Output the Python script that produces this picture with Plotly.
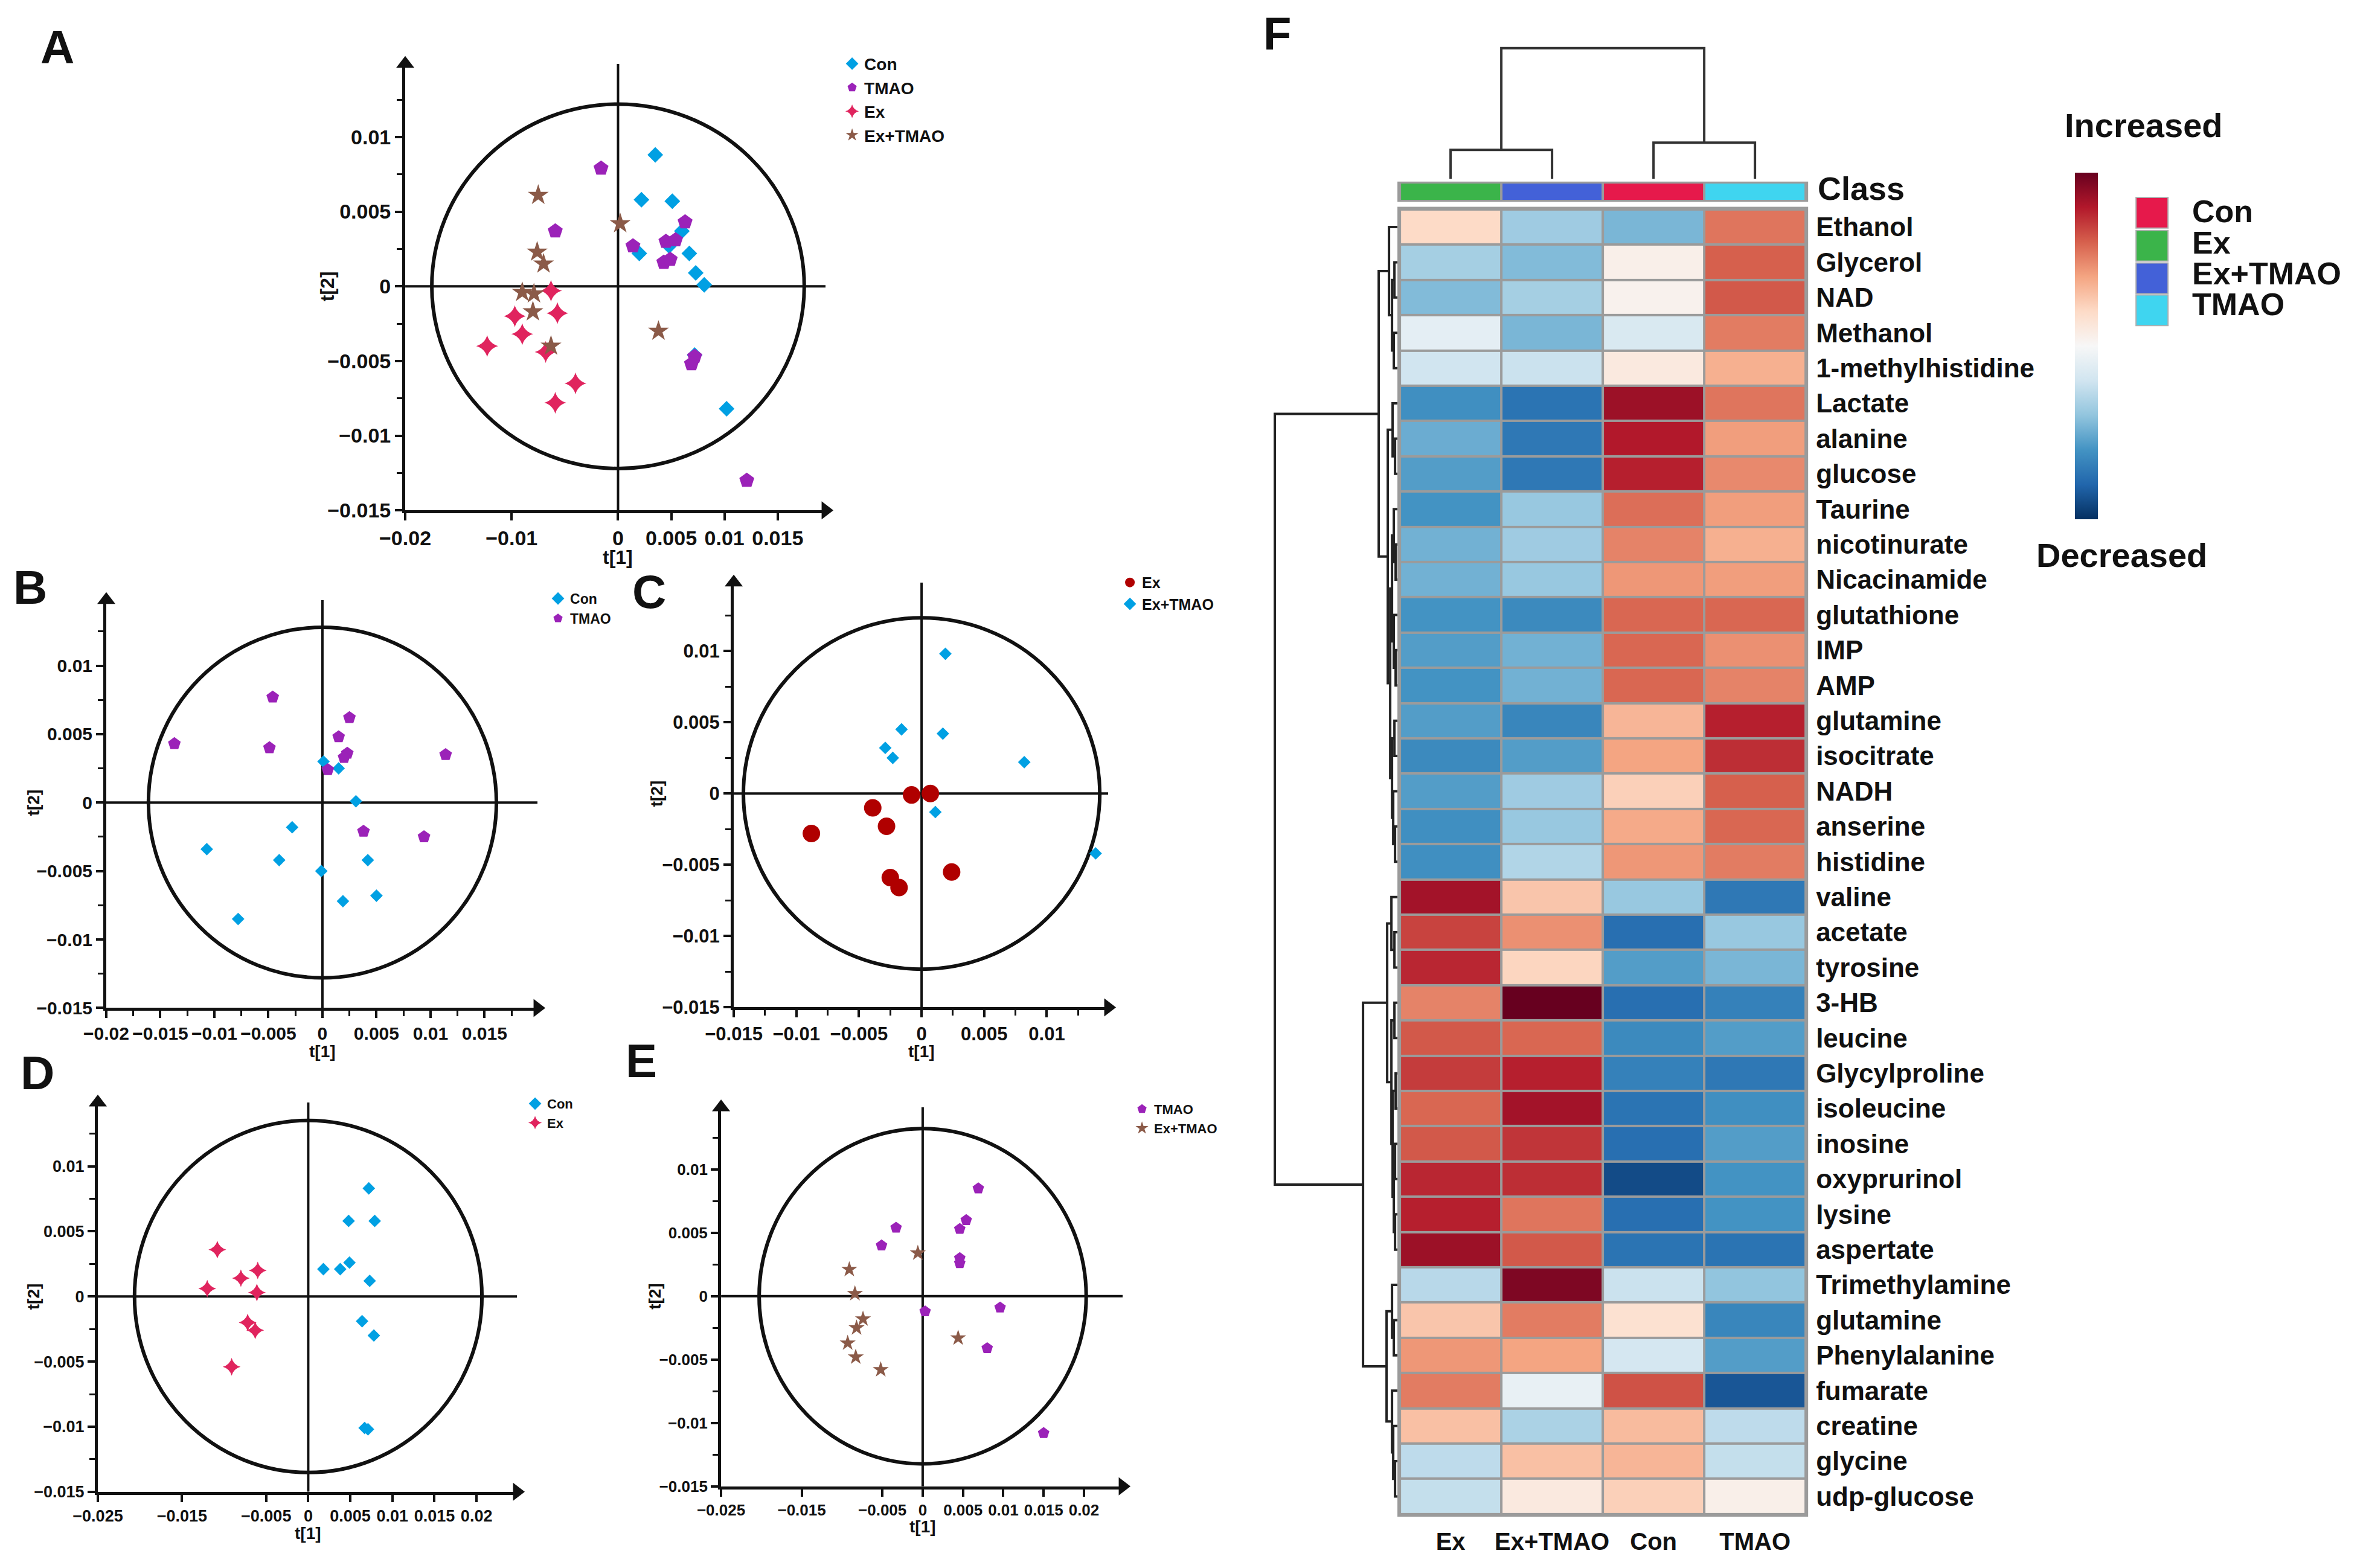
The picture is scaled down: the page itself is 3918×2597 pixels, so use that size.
import numpy as np
import plotly.graph_objects as go

W, H = 3918, 2597
FONT = "Liberation Sans, Arial, Helvetica, sans-serif"
INK = "#111111"

# ---------------- data: score plots ----------------
A_CON_X = [0.0035, 0.0022, 0.0051, 0.0060, 0.0067, 0.0020, 0.0048, 0.0073, 0.0081, 0.0102, 0.0072]
A_CON_Y = [0.0088, 0.0058, 0.0057, 0.0037, 0.0022, 0.0022, 0.0027, 0.0009, 0.0001, -0.0082, -0.0046]
A_TMAO_X = [-0.0016, -0.0059, 0.0063, 0.0014, 0.0045, 0.0054, 0.0043, 0.0049, 0.0072, 0.0069, 0.0121]
A_TMAO_Y = [0.0079, 0.0037, 0.0043, 0.0027, 0.0030, 0.0031, 0.0016, 0.0018, -0.0047, -0.0052, -0.0130]
A_EX_X = [-0.0063, -0.0097, -0.0057, -0.0090, -0.0123, -0.0068, -0.0040, -0.0059]
A_EX_Y = [-0.0003, -0.0020, -0.0018, -0.0032, -0.0040, -0.0044, -0.0065, -0.0078]
A_EXTMAO_X = [-0.0075, -0.0076, -0.0070, -0.0090, -0.0079, -0.0080, -0.0063, 0.0002, 0.0038]
A_EXTMAO_Y = [0.0061, 0.0023, 0.0015, -0.0004, -0.0005, -0.0017, -0.0040, 0.0042, -0.0030]

B_CON_X = [0.0001, 0.0015, 0.0031, -0.0028, -0.0107, -0.0040, -0.0001, 0.0042, 0.0050, 0.0019, -0.0078]
B_CON_Y = [0.0030, 0.0025, 0.0001, -0.0018, -0.0034, -0.0042, -0.0050, -0.0042, -0.0068, -0.0072, -0.0085]
B_TMAO_X = [-0.0137, -0.0046, -0.0049, 0.0025, 0.0015, 0.0023, 0.0020, 0.0005, 0.0114, 0.0038, 0.0094]
B_TMAO_Y = [0.0043, 0.0077, 0.0040, 0.0062, 0.0048, 0.0036, 0.0033, 0.0024, 0.0035, -0.0021, -0.0025]

C_EX_X = [-0.0008, 0.0007, -0.0039, -0.0028, -0.0088, -0.0025, -0.0018, 0.0024]
C_EX_Y = [-0.0001, 0.0000, -0.0010, -0.0023, -0.0028, -0.0059, -0.0066, -0.0055]
C_EXTMAO_X = [0.0019, -0.0016, 0.0017, -0.0029, -0.0023, 0.0082, 0.0011, 0.0139]
C_EXTMAO_Y = [0.0098, 0.0045, 0.0042, 0.0032, 0.0025, 0.0022, -0.0013, -0.0042]

D_CON_X = [0.0072, 0.0048, 0.0079, 0.0018, 0.0038, 0.0049, 0.0073, 0.0064, 0.0078, 0.0067, 0.0071]
D_CON_Y = [0.0083, 0.0058, 0.0058, 0.0021, 0.0021, 0.0026, 0.0012, -0.0019, -0.0030, -0.0101, -0.0102]
D_EX_X = [-0.0108, -0.0060, -0.0080, -0.0120, -0.0061, -0.0072, -0.0063, -0.0091]
D_EX_Y = [0.0036, 0.0020, 0.0014, 0.0006, 0.0003, -0.0020, -0.0026, -0.0054]

E_TMAO_X = [0.0069, 0.0054, 0.0046, -0.0033, -0.0051, 0.0046, 0.0046, 0.0003, 0.0096, 0.0080, 0.0150]
E_TMAO_Y = [0.0085, 0.0060, 0.0053, 0.0054, 0.0040, 0.0030, 0.0026, -0.0012, -0.0009, -0.0041, -0.0108]
E_EXTMAO_X = [-0.0006, -0.0091, -0.0084, -0.0074, -0.0082, -0.0093, -0.0083, -0.0052, 0.0044]
E_EXTMAO_Y = [0.0034, 0.0021, 0.0002, -0.0018, -0.0025, -0.0037, -0.0048, -0.0058, -0.0033]

# tick values
A_XTICKS = [-0.02, -0.01, 0, 0.005, 0.01, 0.015]
B_XTICKS = [-0.02, -0.015, -0.01, -0.005, 0, 0.005, 0.01, 0.015]
C_XTICKS = [-0.015, -0.01, -0.005, 0, 0.005, 0.01]
DE_XTICKS = [-0.025, -0.015, -0.005, 0, 0.005, 0.01, 0.015, 0.02]
Y_TICKS = [-0.015, -0.01, -0.005, 0, 0.005, 0.01]
Y_MINOR = [-0.0125, -0.0075, -0.0025, 0.0025, 0.0075, 0.0125]
B_XMINOR = [-0.0175, -0.0125, -0.0075, -0.0025, 0.0025, 0.0075, 0.0125, 0.0175]
C_XMINOR = [-0.0125, -0.0075, -0.0025, 0.0025, 0.0075, 0.0125]

# ---------------- data: heatmap ----------------
HEAT_COLS = ["Ex", "Ex+TMAO", "Con", "TMAO"]
HEAT_ROWS = ["Ethanol", "Glycerol", "NAD", "Methanol", "1-methylhistidine", "Lactate", "alanine",
             "glucose", "Taurine", "nicotinurate", "Nicacinamide", "glutathione", "IMP", "AMP",
             "glutamine", "isocitrate", "NADH", "anserine", "histidine", "valine", "acetate",
             "tyrosine", "3-HB", "leucine", "Glycylproline", "isoleucine", "inosine", "oxyprurinol",
             "lysine", "aspertate", "Trimethylamine", "glutamine", "Phenylalanine", "fumarate",
             "creatine", "glycine", "udp-glucose"]
HEAT_EX = [0.60, 0.33, 0.28, 0.45, 0.40, 0.19, 0.25, 0.22, 0.20, 0.26, 0.26, 0.20, 0.22, 0.20, 0.22,
           0.18, 0.22, 0.19, 0.19, 0.92, 0.84, 0.88, 0.75, 0.81, 0.85, 0.79, 0.81, 0.88, 0.89, 0.93,
           0.36, 0.64, 0.72, 0.76, 0.65, 0.37, 0.38]
HEAT_EXTMAO = [0.32, 0.28, 0.33, 0.27, 0.39, 0.13, 0.14, 0.14, 0.31, 0.32, 0.31, 0.18, 0.26, 0.26, 0.17,
               0.22, 0.32, 0.31, 0.35, 0.64, 0.73, 0.61, 1.00, 0.79, 0.89, 0.92, 0.86, 0.87, 0.77, 0.81,
               0.97, 0.76, 0.70, 0.46, 0.34, 0.65, 0.55]
HEAT_CON = [0.27, 0.53, 0.52, 0.42, 0.55, 0.93, 0.90, 0.89, 0.78, 0.75, 0.72, 0.79, 0.79, 0.79, 0.67,
            0.70, 0.62, 0.69, 0.72, 0.31, 0.12, 0.22, 0.12, 0.18, 0.16, 0.13, 0.12, 0.05, 0.12, 0.13,
            0.39, 0.58, 0.41, 0.82, 0.66, 0.67, 0.62]
HEAT_TMAO = [0.77, 0.80, 0.81, 0.76, 0.68, 0.77, 0.71, 0.74, 0.71, 0.68, 0.71, 0.79, 0.73, 0.75, 0.89,
             0.87, 0.80, 0.79, 0.76, 0.14, 0.31, 0.27, 0.16, 0.22, 0.14, 0.19, 0.22, 0.20, 0.20, 0.13,
             0.30, 0.17, 0.22, 0.07, 0.37, 0.38, 0.53]
CLASS_NAMES = ["Con", "Ex", "Ex+TMAO", "TMAO"]
CLASS_COLORS = {"Con": "#E6194B", "Ex": "#3BB44A", "Ex+TMAO": "#4361D8", "TMAO": "#3FD5F0"}

# column dendrogram: [left, right, merge height]
COL_TREE = [[0, 1, 48], [2, 3, 60], 217]
# row dendrogram
ROW_TREE = [
    [[0, [[1, 2, 5], [3, 4, 6], 9], 14],
     [[5, [6, 7, 4], 8],
      [[[8, [9, 10, 3], 6], [11, [12, 13, 3], 6], 9], [[14, 15, 5], [16, [17, 18, 4], 7], 9], 12], 16], 31],
    [[[19, [20, 21, 5], 10],
      [[22, 23, 5], [[24, 25, 3], [[26, 27, 4], [28, 29, 4], 6], 8], 10], 17],
     [[30, [31, 32, 6], 9], [33, [34, [35, 36, 4], 7], 9], 18], 57],
    203]

RDBU_R = ["#053061", "#2166ac", "#4393c3", "#92c5de", "#d1e5f0", "#f7f7f7",
          "#fddbc7", "#f4a582", "#d6604d", "#b2182b", "#67001f"]

# colours
C_CON = "#00A0E3"
C_TMAO = "#9B22B8"
C_EX = "#E0245E"
C_EXTMAO = "#8B5A48"
C_EX_C = "#B00000"

# mapping from target-picture pixels to paper fractions (small calibration of the capture)
SX0, SXS = 56.0, 0.9877
SY0, SYS = 7.0, 0.996


def fx(p):
    return ((p - SX0) / SXS) / W


def fy(p):
    return 1 - ((p - SY0) / SYS) / H


def fmt(v):
    return f"{v:g}".replace("-", "\u2212")


fig = go.Figure()
shapes = []
annotations = []
layout = {}

PANELS = [
    dict(name="A", i=1, xd=(671, 1367), yd=(105, 847), xr=(-0.02, 0.0195), yr=(-0.015, 0.0149),
         xt=A_XTICKS, xm=None, ell=(0.0175, 0.0122), fs=34, tfs=32, tx=-78, ty=-129, lab=(95, 77)),
    dict(name="B", i=2, xd=(176, 890), yd=(996, 1674), xr=(-0.02, 0.0199), yr=(-0.015, 0.0148),
         xt=B_XTICKS, xm=B_XMINOR, ell=(0.0161, 0.0128), fs=30, tfs=28, tx=-72, ty=-121, lab=(50, 975)),
    dict(name="C", i=3, xd=(1215, 1835), yd=(967, 1673), xr=(-0.015, 0.0149), yr=(-0.015, 0.0148),
         xt=C_XTICKS, xm=C_XMINOR, ell=(0.01423, 0.01232), fs=31, tfs=28, tx=-73, ty=-128, lab=(1075, 982)),
    dict(name="D", i=4, xd=(162, 856), yd=(1831, 2478), xr=(-0.025, 0.0248), yr=(-0.015, 0.0149),
         xt=DE_XTICKS, xm=None, ell=(0.02064, 0.01352), fs=27, tfs=28, tx=-69, ty=-107, lab=(62, 1782)),
    dict(name="E", i=5, xd=(1194, 1859), yd=(1839, 2469), xr=(-0.025, 0.0248), yr=(-0.015, 0.0149),
         xt=DE_XTICKS, xm=None, ell=(0.02028, 0.01322), fs=26, tfs=28, tx=-67, ty=-109, lab=(1062, 1762)),
]

for P in PANELS:
    i = P["i"]
    xa = "x" if i == 1 else f"x{i}"
    ya = "y" if i == 1 else f"y{i}"
    xkey = "xaxis" if i == 1 else f"xaxis{i}"
    ykey = "yaxis" if i == 1 else f"yaxis{i}"
    tickfont = dict(family=FONT, size=P["fs"], color=INK, weight="bold")
    xaxis = dict(domain=[fx(P["xd"][0]), fx(P["xd"][1])], range=list(P["xr"]), anchor=ya,
                 showline=True, linewidth=5, linecolor=INK, showgrid=False, zeroline=False,
                 ticks="outside", ticklen=12, tickwidth=4, tickcolor=INK,
                 tickmode="array", tickvals=P["xt"], ticktext=[fmt(v) for v in P["xt"]],
                 tickfont=tickfont, fixedrange=True)
    if P["xm"]:
        xaxis["minor"] = dict(tickmode="array", tickvals=P["xm"], ticks="outside", ticklen=9,
                              tickwidth=3, tickcolor=INK, showgrid=False)
    yaxis = dict(domain=[fy(P["yd"][1]), fy(P["yd"][0])], range=list(P["yr"]), anchor=xa,
                 showline=True, linewidth=5, linecolor=INK, showgrid=False, zeroline=False,
                 ticks="outside", ticklen=12, tickwidth=4, tickcolor=INK,
                 tickmode="array", tickvals=Y_TICKS, ticktext=[fmt(v) for v in Y_TICKS],
                 tickfont=tickfont, fixedrange=True,
                 minor=dict(tickmode="array", tickvals=Y_MINOR, ticks="outside", ticklen=9,
                            tickwidth=3, tickcolor=INK, showgrid=False))
    layout[xkey] = xaxis
    layout[ykey] = yaxis
    a, b = P["ell"]
    shapes.append(dict(type="circle", xref=xa, yref=ya, x0=-a, x1=a, y0=-b, y1=b,
                       line=dict(color=INK, width=6), layer="below"))
    shapes.append(dict(type="line", xref=xa, yref=ya, x0=0, x1=0, y0=P["yr"][0], y1=P["yr"][1],
                       line=dict(color=INK, width=4), layer="below"))
    shapes.append(dict(type="line", xref=xa, yref=ya, x0=P["xr"][0], x1=P["xr"][1], y0=0, y1=0,
                       line=dict(color=INK, width=4), layer="below"))
    # axis arrow heads
    fig.add_trace(go.Scatter(x=[P["xr"][0], P["xr"][1]], y=[P["yr"][1], P["yr"][0]], mode="markers",
                             marker=dict(symbol=["triangle-up", "triangle-right"], size=26, color=INK),
                             xaxis=xa, yaxis=ya, showlegend=False, hoverinfo="skip", cliponaxis=False))
    annotations.append(dict(text="t[1]", xref=xa, x=0, yref=f"{ya} domain", y=0, yshift=P["tx"],
                            showarrow=False, font=dict(family=FONT, size=P["tfs"], color=INK, weight="bold"),
                            yanchor="middle"))
    annotations.append(dict(text="t[2]", xref=f"{xa} domain", x=0, xshift=P["ty"], yref=ya, y=0,
                            textangle=-90, showarrow=False,
                            font=dict(family=FONT, size=P["tfs"], color=INK, weight="bold"), xanchor="center"))
    annotations.append(dict(text=P["name"], xref="paper", yref="paper", x=fx(P["lab"][0]), y=fy(P["lab"][1]),
                            showarrow=False, font=dict(family=FONT, size=78, color=INK, weight="bold"),
                            xanchor="center", yanchor="middle"))


def add_pts(x, y, name, sym, size, color, i, leg):
    xa = "x" if i == 1 else f"x{i}"
    ya = "y" if i == 1 else f"y{i}"
    fig.add_trace(go.Scatter(x=x, y=y, name=name, mode="markers", xaxis=xa, yaxis=ya, legend=leg,
                             marker=dict(symbol=sym, size=size, color=color, line=dict(width=0)),
                             cliponaxis=False))


add_pts(A_CON_X, A_CON_Y, "Con", "diamond", 20, C_CON, 1, "legend")
add_pts(A_TMAO_X, A_TMAO_Y, "TMAO", "pentagon", 26, C_TMAO, 1, "legend")
add_pts(A_EX_X, A_EX_Y, "Ex", "star-diamond", 26, C_EX, 1, "legend")
add_pts(A_EXTMAO_X, A_EXTMAO_Y, "Ex+TMAO", "star", 26, C_EXTMAO, 1, "legend")
add_pts(B_CON_X, B_CON_Y, "Con", "diamond", 16, C_CON, 2, "legend2")
add_pts(B_TMAO_X, B_TMAO_Y, "TMAO", "pentagon", 22, C_TMAO, 2, "legend2")
add_pts(C_EX_X, C_EX_Y, "Ex", "circle", 29, C_EX_C, 3, "legend3")
add_pts(C_EXTMAO_X, C_EXTMAO_Y, "Ex+TMAO", "diamond", 16, C_CON, 3, "legend3")
add_pts(D_CON_X, D_CON_Y, "Con", "diamond", 16, C_CON, 4, "legend4")
add_pts(D_EX_X, D_EX_Y, "Ex", "star-diamond", 21, C_EX, 4, "legend4")
add_pts(E_TMAO_X, E_TMAO_Y, "TMAO", "pentagon", 20, C_TMAO, 5, "legend5")
add_pts(E_EXTMAO_X, E_EXTMAO_Y, "Ex+TMAO", "star", 20, C_EXTMAO, 5, "legend5")


def legend_cfg(xp, yp, size):
    return dict(x=fx(xp), y=fy(yp), xanchor="left", yanchor="top", bgcolor="rgba(0,0,0,0)",
                borderwidth=0, font=dict(family=FONT, size=size, color=INK, weight="bold"),
                itemsizing="trace", tracegroupgap=0)


layout["legend"] = legend_cfg(1391, 80, 28)
layout["legend2"] = legend_cfg(904, 972, 23)
layout["legend3"] = legend_cfg(1851, 944, 25)
layout["legend4"] = legend_cfg(866, 1812, 22)
layout["legend5"] = legend_cfg(1871, 1821, 22)

# ---------------- heatmap panel F ----------------
HX0, HX1 = 2318, 2990
HY0, HY1 = 347, 2515
z = np.column_stack([HEAT_EX, HEAT_EXTMAO, HEAT_CON, HEAT_TMAO])
ncol = len(HEAT_COLS)
nrow = len(HEAT_ROWS)
cs = [[k / (len(RDBU_R) - 1), c] for k, c in enumerate(RDBU_R)]
fig.add_trace(go.Heatmap(z=z, x=list(range(ncol)), y=list(range(nrow)), colorscale=cs, zmin=0, zmax=1,
                         xgap=4, ygap=4, xaxis="x6", yaxis="y6", showlegend=False,
                         colorbar=dict(x=fx(3436), xanchor="left", y=fy(286), yanchor="top",
                                       len=574, lenmode="pixels", thickness=38, thicknessmode="pixels",
                                       showticklabels=False, ticks="", outlinewidth=0, xpad=0, ypad=0)))
layout["xaxis6"] = dict(domain=[fx(HX0), fx(HX1)], range=[-0.5, ncol - 0.5], anchor="y6",
                        tickmode="array", tickvals=list(range(ncol)), ticktext=HEAT_COLS, ticks="",
                        showline=False, showgrid=False, zeroline=False, ticklabelstandoff=18,
                        tickfont=dict(family=FONT, size=40, color=INK, weight="bold"), fixedrange=True)
layout["yaxis6"] = dict(domain=[fy(HY1), fy(HY0)], range=[nrow - 0.5, -0.5], anchor="x6", side="right",
                        tickmode="array", tickvals=list(range(nrow)), ticktext=HEAT_ROWS, ticks="",
                        showline=False, showgrid=False, zeroline=False, ticklabelstandoff=16,
                        tickfont=dict(family=FONT, size=44, color=INK, weight="bold"), fixedrange=True)
shapes.append(dict(type="rect", xref="x6 domain", yref="y6 domain", x0=-0.006, x1=1.006, y0=-0.002, y1=1.002,
                   fillcolor="#9b9b9b", line=dict(width=0), layer="below"))

# class bar
class_idx = [CLASS_NAMES.index(c) for c in HEAT_COLS]
ccs = []
for k, nm in enumerate(CLASS_NAMES):
    c = CLASS_COLORS[nm]
    ccs += [[k / 4, c], [(k + 1) / 4, c]]
fig.add_trace(go.Heatmap(z=[class_idx], x=list(range(ncol)), y=[0], colorscale=ccs, zmin=-0.5, zmax=3.5,
                         showscale=False, xgap=4, xaxis="x7", yaxis="y7", hoverinfo="skip"))
layout["xaxis7"] = dict(domain=[fx(HX0), fx(HX1)], range=[-0.5, ncol - 0.5], anchor="y7", visible=False,
                        fixedrange=True)
layout["yaxis7"] = dict(domain=[fy(331), fy(304)], range=[-0.5, 0.5], anchor="x7", visible=False,
                        fixedrange=True)
shapes.append(dict(type="rect", xref="x7 domain", yref="y7 domain", x0=-0.006, x1=1.006, y0=-0.12, y1=1.12,
                   fillcolor="#9b9b9b", line=dict(width=0), layer="below"))


def dendro(node, sx, sy):
    if isinstance(node, int):
        return float(node), 0.0
    left, right, h = node
    p1, h1 = dendro(left, sx, sy)
    p2, h2 = dendro(right, sx, sy)
    sx += [p1, p1, p2, p2, None]
    sy += [h1, h, h, h2, None]
    return (p1 + p2) / 2, h


# column dendrogram
cx, cy = [], []
dendro(COL_TREE, cx, cy)
fig.add_trace(go.Scatter(x=cx, y=cy, mode="lines", line=dict(color="#333333", width=4), xaxis="x8",
                         yaxis="y8", showlegend=False, hoverinfo="skip"))
layout["xaxis8"] = dict(domain=[fx(HX0), fx(HX1)], range=[-0.5, ncol - 0.5], anchor="y8", visible=False,
                        fixedrange=True)
layout["yaxis8"] = dict(domain=[fy(296), fy(76)], range=[0, 220], anchor="x8", visible=False, fixedrange=True)

# row dendrogram
rp, rh = [], []
dendro(ROW_TREE, rp, rh)
fig.add_trace(go.Scatter(x=rh, y=rp, mode="lines", line=dict(color="#222222", width=4), xaxis="x9",
                         yaxis="y9", showlegend=False, hoverinfo="skip"))
layout["xaxis9"] = dict(domain=[fx(2100), fx(2314)], range=[214, 0], anchor="y9", visible=False,
                        fixedrange=True)
layout["yaxis9"] = dict(domain=[fy(HY1), fy(HY0)], range=[nrow - 0.5, -0.5], anchor="x9", visible=False,
                        fixedrange=True)

# texts of panel F
bold = lambda s: dict(family=FONT, size=s, color=INK, weight="bold")
annotations.append(dict(text="F", xref="paper", yref="paper", x=fx(2115), y=fy(55), showarrow=False,
                        font=bold(76), xanchor="center", yanchor="middle"))
annotations.append(dict(text="Class", xref="paper", yref="paper", x=fx(3008), y=fy(312), showarrow=False,
                        font=bold(54), xanchor="left", yanchor="middle"))
annotations.append(dict(text="Increased", xref="paper", yref="paper", x=fx(3550), y=fy(207), showarrow=False,
                        font=bold(56), xanchor="center", yanchor="middle"))
annotations.append(dict(text="Decreased", xref="paper", yref="paper", x=fx(3513), y=fy(922), showarrow=False,
                        font=bold(56), xanchor="center", yanchor="middle"))
box_top = [327, 382, 436, 489]
text_mid = [350, 402, 453, 505]
box_h = 51
for nm, t in zip(CLASS_NAMES, box_top):
    shapes.append(dict(type="rect", xref="paper", yref="paper", x0=fx(3537), x1=fx(3590), y0=fy(t + box_h),
                       y1=fy(t), fillcolor=CLASS_COLORS[nm], line=dict(color="#b0b0b0", width=2)))
for nm, m in zip(CLASS_NAMES, text_mid):
    annotations.append(dict(text=nm, xref="paper", yref="paper", x=fx(3628), y=fy(m),
                            showarrow=False, font=bold(52), xanchor="left", yanchor="middle"))

fig.update_layout(width=W, height=H, margin=dict(l=0, r=0, t=0, b=0), paper_bgcolor="white",
                  plot_bgcolor="rgba(0,0,0,0)", shapes=shapes, annotations=annotations,
                  font=dict(family=FONT, color=INK), **layout)

fig.write_html("out.html")
